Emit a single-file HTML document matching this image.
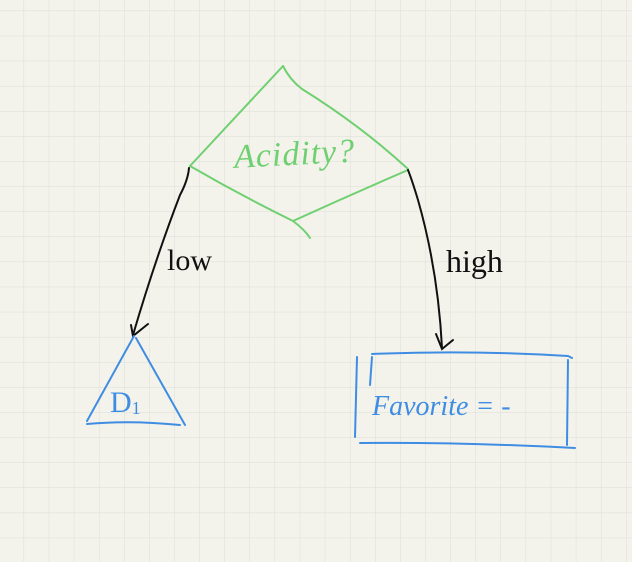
<!DOCTYPE html>
<html><head><style>
html,body{margin:0;padding:0;}
body{width:632px;height:562px;overflow:hidden;background:#f4f3eb;}
svg{display:block}
text{font-family:"Liberation Sans",sans-serif;}
</style></head><body>
<svg width="632" height="562" viewBox="0 0 632 562" xmlns="http://www.w3.org/2000/svg">
<defs>
<pattern id="g" x="-1" y="-14" width="25.1" height="25.1" patternUnits="userSpaceOnUse">
<path d="M25.1 0V25.1M0 25.1H25.1" stroke="#dcdcd8" stroke-width="1" fill="none"/>
</pattern>
</defs>
<rect width="632" height="562" fill="url(#g)"/>
<g fill="none" stroke="#6fd071" stroke-width="2" stroke-linecap="round" stroke-linejoin="round">
<path d="M283 66 Q290 80 302 89 Q360 125 408 169"/>
<path d="M283 66 L190 166"/>
<path d="M190 166 Q240 195 293 221 Q305 230 310 238"/>
<path d="M408 170 Q350 195 293 221"/>
</g>
<text x="234" y="165" font-size="34" fill="#6fd071" font-style="italic" transform="rotate(-3 290 155)" style="font-family:'Liberation Serif',serif" letter-spacing="1">Acidity?</text>
<g fill="none" stroke="#111" stroke-width="2" stroke-linecap="round">
<path d="M189 168 Q188 180 180 195 Q155 260 133 335"/>
<path d="M131 325 L133 336 L148 324"/>
<path d="M408 170 Q412 180 418 200 Q438 270 442 348"/>
<path d="M436 334 L442 349 L453 340"/>
</g>
<text x="167" y="270" font-size="30" fill="#111" style="font-family:'Liberation Serif',serif">low</text>
<text x="446" y="272" font-size="32" fill="#111" style="font-family:'Liberation Serif',serif">high</text>
<g fill="none" stroke="#3f8de3" stroke-width="2" stroke-linecap="round" stroke-linejoin="round">
<path d="M134 336 L87 421"/>
<path d="M136 338 L185 425"/>
<path d="M87 424 Q130 420 180 425"/>
<path d="M357 357 L355 437"/>
<path d="M372 354 Q470 350 568 356 L572 358"/>
<path d="M568 360 L567 445"/>
<path d="M360 443 Q460 442 575 448"/>
<path d="M372 357 L370 385"/>
</g>
<text x="110" y="412" font-size="30" fill="#3f8de3" style="font-family:'Liberation Serif',serif">D<tspan font-size="18" dy="2">1</tspan></text>
<text x="372" y="415" font-size="28" fill="#3f8de3" style="font-family:'Liberation Serif',serif" font-style="italic">Favorite = -</text>
</svg>
</body></html>
